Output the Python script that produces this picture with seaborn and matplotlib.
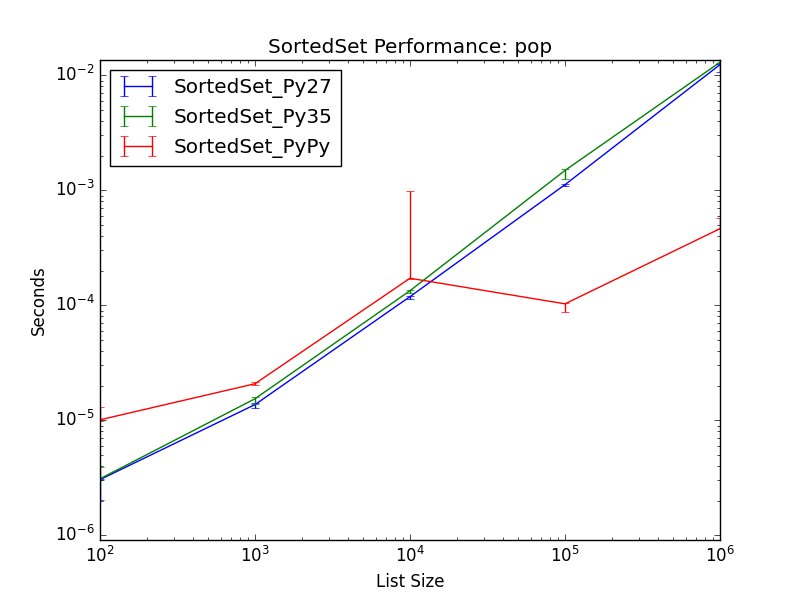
import matplotlib
matplotlib.use('Agg')
import matplotlib.pyplot as plt
from matplotlib.legend_handler import HandlerTuple
import numpy as np
import pandas as pd
import seaborn as sns

### Data
sizes = [1e2, 1e3, 1e4, 1e5, 1e6]
names = ['SortedSet_Py27', 'SortedSet_Py35', 'SortedSet_PyPy']
colors = {'SortedSet_Py27': 'b', 'SortedSet_Py35': 'g', 'SortedSet_PyPy': 'r'}

py27_mid = [3.05e-6, 1.37e-5, 1.19e-4, 1.12e-3, 1.24e-2]
py27_low = [2.04e-6, 1.29e-5, 1.14e-4, 1.08e-3, 1.07e-2]
py27_high = [3.10e-6, 1.42e-5, 1.21e-4, 1.14e-3, 1.26e-2]

py35_mid = [3.10e-6, 1.54e-5, 1.34e-4, 1.49e-3, 1.30e-2]
py35_low = [3.00e-6, 1.40e-5, 1.28e-4, 1.26e-3, 1.28e-2]
py35_high = [3.95e-6, 1.60e-5, 1.37e-4, 1.54e-3, 1.36e-2]

pypy_mid = [1.01e-5, 2.08e-5, 1.72e-4, 1.03e-4, 4.64e-4]
pypy_low = [9.90e-6, 2.02e-5, 1.70e-4, 8.80e-5, 4.60e-4]
pypy_high = [1.31e-5, 2.16e-5, 9.82e-4, 1.05e-4, 5.69e-4]

series = {
    'SortedSet_Py27': (py27_mid, py27_low, py27_high),
    'SortedSet_Py35': (py35_mid, py35_low, py35_high),
    'SortedSet_PyPy': (pypy_mid, pypy_low, pypy_high),
}

df = pd.concat([
    pd.DataFrame({'size': sizes, 'seconds': vals[0], 'impl': name})
    for name, vals in series.items()
], ignore_index=True)

plt.style.use('classic')
plt.rcParams['font.family'] = ['DejaVu Sans']

fig, ax = plt.subplots(figsize=(8, 6), dpi=100, facecolor='white')
ax.set_xscale('log')
ax.set_yscale('log')

sns.lineplot(data=df, x='size', y='seconds', hue='impl', palette=colors,
             hue_order=names, legend=False, ax=ax)

handles = []
for line, name in zip(ax.get_lines(), names):
    mid, low, high = (np.array(v) for v in series[name])
    err = ax.errorbar(sizes, mid, yerr=[mid - low, high - mid], fmt='none',
                      ecolor=colors[name], capsize=3)
    handles.append((line, err))

ax.set_xlim(1e2, 1e6)
ax.set_ylim(9.1e-7, 1.36e-2)
ax.set_title('SortedSet Performance: pop')
ax.set_xlabel('List Size')
ax.set_ylabel('Seconds')
ax.legend(handles, names, loc='upper left',
          handler_map={tuple: HandlerTuple(ndivide=1)})

fig.savefig('out.png', dpi=100, facecolor='white')
